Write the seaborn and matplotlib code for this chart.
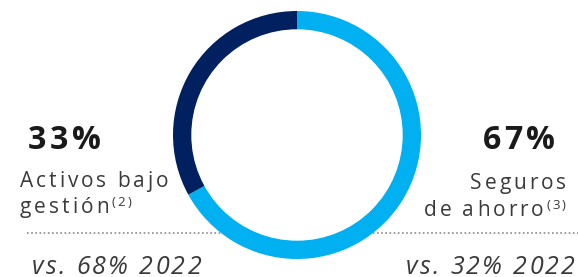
import matplotlib
matplotlib.use('Agg')
import matplotlib.pyplot as plt
import seaborn as sns

sns.set_theme(style='white')
plt.rcParams['font.family'] = ['Open Sans', 'DejaVu Sans']

# data
segments = ['Seguros de ahorro', 'Activos bajo gestión']
shares = [67, 33]
prev_shares = [32, 68]
colors = ['#00B0F0', '#002060']

W, H = 578, 277
fig = plt.figure(figsize=(W / 100, H / 100), dpi=100)
ax = fig.add_axes([0, 0, 1, 1])
ax.axis('off')
renderer = fig.canvas.get_renderer()


def y(px):
    return H - px


def text_w(s, **kw):
    t = ax.text(0, 0, s, **kw)
    w = t.get_window_extent(renderer).width
    t.remove()
    return w


def tracked(x, yb, s, track, ha='left', **kw):
    # draw text with extra letter spacing, returns right edge
    base = text_w('|', **kw)
    offs = [text_w(s[:i] + '|', **kw) - base + i * track for i in range(len(s))]
    total = text_w(s, **kw) + (len(s) - 1) * track
    start = x if ha == 'left' else x - total
    for ch, o in zip(s, offs):
        ax.text(start + o, yb, ch, ha='left', va='baseline', **kw)
    return start + total


cx, cy, r, ring = 297, y(135), 124, 19
ax.pie(shares, colors=colors, startangle=90, counterclock=False,
       center=(cx, cy), radius=r,
       wedgeprops=dict(width=ring, linewidth=0))
ax.add_patch(plt.Circle((cx, cy), r - ring, color='white', zorder=1))
ax.set_xlim(0, W)
ax.set_ylim(0, H)
ax.set_aspect('auto')

# dotted separator behind the ring
ax.plot([27, W], [y(233), y(233)], color='#8a8a8a', linestyle=(0, (1, 1.5)), lw=1.2, zorder=0)

txt = '#3a3a3a'
big = dict(fontsize=23, fontweight='bold', color='#1a1a1a')
lab = dict(fontsize=15, color=txt)
sup = dict(fontsize=9.5, color=txt)
cmp_ = dict(fontsize=18, style='italic', color=txt)

# left block
tracked(28, y(149), f'{shares[1]}%', 3.5, **big)
tracked(20, y(187), 'Activos bajo', 2.9, **lab)
end = tracked(20, y(213), 'gestión', 2.9, **lab)
tracked(end + 3, y(206), '(2)', 2.2, **sup)
tracked(32, y(274), f'vs. {prev_shares[1]}% 2022', 2.3, **cmp_)

# right block
tracked(555, y(149), f'{shares[0]}%', 3.5, ha='right', **big)
tracked(566, y(189), 'Seguros', 2.9, ha='right', **lab)
sup_w = text_w('(3)', **sup) + 2 * 2.2
tracked(566 - sup_w - 3, y(216), 'de ahorro', 2.9, ha='right', **lab)
tracked(566, y(209), '(3)', 2.2, ha='right', **sup)
tracked(575, y(274), f'vs. {prev_shares[0]}% 2022', 2.3, ha='right', **cmp_)

fig.savefig('out.png', dpi=100)
